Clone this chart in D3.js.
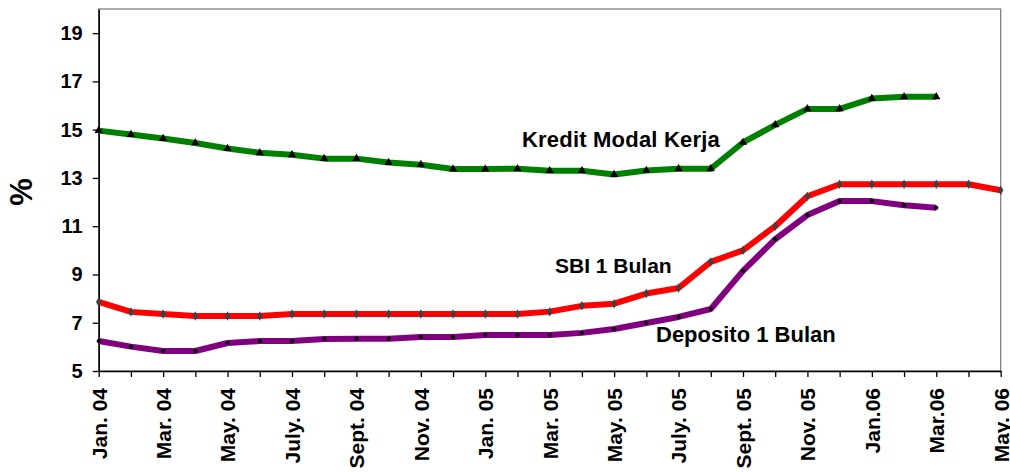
<!DOCTYPE html>
<html>
<head>
<meta charset="utf-8">
<script src="https://cdn.jsdelivr.net/npm/d3@7"></script>
<style>
  body { margin: 0; background: #fff; }
  svg { font-family: Arial, "Liberation Sans", sans-serif; font-weight: bold; }
</style>
</head>
<body>
<svg id="chart" width="1010" height="472"></svg>
<script>
// months Jan 04 .. May 06, label on every second month
const months = ['Jan. 04', 'Feb. 04', 'Mar. 04', 'Apr. 04', 'May. 04', 'Jun. 04', 'July. 04', 'Aug. 04',
  'Sept. 04', 'Oct. 04', 'Nov. 04', 'Dec. 04', 'Jan. 05', 'Feb. 05', 'Mar. 05', 'Apr. 05', 'May. 05',
  'Jun. 05', 'July. 05', 'Aug. 05', 'Sept. 05', 'Oct. 05', 'Nov. 05', 'Dec. 05', 'Jan.06', 'Feb.06',
  'Mar.06', 'Apr.06', 'May. 06'];

const kreditModalKerja = [14.96, 14.80, 14.63, 14.45, 14.22, 14.04, 13.96, 13.80, 13.80, 13.64, 13.55,
  13.37, 13.37, 13.38, 13.30, 13.30, 13.14, 13.31, 13.38, 13.38, 14.47, 15.20, 15.86, 15.86, 16.29,
  16.36, 16.36];

const sbi1Bulan = [7.86, 7.45, 7.36, 7.28, 7.28, 7.28, 7.36, 7.36, 7.36, 7.36, 7.36, 7.36, 7.36, 7.36,
  7.46, 7.70, 7.79, 8.21, 8.44, 9.52, 10.00, 11.00, 12.24, 12.74, 12.74, 12.74, 12.74, 12.74, 12.49];

const deposito1Bulan = [6.24, 6.01, 5.83, 5.83, 6.16, 6.24, 6.24, 6.33, 6.34, 6.34, 6.41, 6.41, 6.49,
  6.49, 6.49, 6.58, 6.74, 6.99, 7.24, 7.57, 9.15, 10.46, 11.46, 12.04, 12.04, 11.87, 11.76];

const yTicks = [5, 7, 9, 11, 13, 15, 17, 19];

const svg = d3.select('#chart');

const x = d3.scaleLinear().domain([0, months.length - 1]).range([98.7, 1000.7]);
const y = d3.scaleLinear().domain([5, 20]).range([371, 9]);

// plot frame (top/right grey)
svg.append('rect')
  .attr('x', x(0)).attr('y', y(20))
  .attr('width', x(months.length - 1) - x(0)).attr('height', y(5) - y(20))
  .attr('fill', 'none').attr('stroke', '#808080').attr('stroke-width', 1.3);

// y axis
const yAxis = svg.append('g')
  .attr('transform', `translate(${x(0)},0)`)
  .call(d3.axisLeft(y).tickValues(yTicks).tickSize(6).tickPadding(10).tickSizeOuter(0));
yAxis.select('.domain').attr('stroke', '#000').attr('stroke-width', 1.5);
yAxis.selectAll('.tick line').attr('stroke', '#000').attr('stroke-width', 1.3);
yAxis.selectAll('text').attr('font-size', '20px').attr('font-weight', 'bold').attr('fill', '#000')
  .attr('font-family', 'Arial, "Liberation Sans", sans-serif');

// x axis
const xAxis = svg.append('g')
  .attr('transform', `translate(0,${y(5)})`)
  .call(d3.axisBottom(x).tickValues(d3.range(months.length)).tickSize(6).tickSizeOuter(0)
    .tickFormat(i => i % 2 === 0 ? months[i] : ''));
xAxis.select('.domain').attr('stroke', '#000').attr('stroke-width', 1.5);
xAxis.selectAll('.tick line').attr('stroke', '#000').attr('stroke-width', 1.3);
xAxis.selectAll('text')
  .attr('font-size', '21px').attr('font-weight', 'bold').attr('fill', '#000')
  .attr('font-family', 'Arial, "Liberation Sans", sans-serif')
  .attr('text-anchor', 'end')
  .attr('transform', 'rotate(-90)')
  .attr('x', -17).attr('y', 0).attr('dy', '0.35em');

// y title
svg.append('text')
  .attr('transform', `translate(32,${(y(5) + y(20)) / 2 + 2}) rotate(-90)`)
  .attr('text-anchor', 'middle')
  .attr('font-size', '31px')
  .text('%');

const line = d3.line().x((d, i) => x(i)).y(d => y(d));

const drawSeries = (data, color, marker) => {
  svg.append('path')
    .datum(data)
    .attr('d', line)
    .attr('fill', 'none')
    .attr('stroke', color)
    .attr('stroke-width', 6)
    .attr('stroke-linejoin', 'round');
  const pts = svg.append('g').selectAll('path')
    .data(data).enter().append('path')
    .attr('transform', (d, i) => `translate(${x(i)},${y(d)})`);
  if (marker === 'triangle') {
    pts.attr('d', d3.symbol(d3.symbolTriangle, 30)).attr('fill', '#000');
  } else if (marker === 'diamond') {
    pts.attr('d', d3.symbol(d3.symbolDiamond, 26)).attr('fill', '#404040');
  } else {
    pts.attr('d', d3.symbol(d3.symbolCircle, 14)).attr('fill', '#000');
  }
};

drawSeries(kreditModalKerja, '#008000', 'triangle');
drawSeries(sbi1Bulan, '#ff0000', 'diamond');
drawSeries(deposito1Bulan, '#800080', 'circle');

// series labels
svg.append('text').attr('x', 522).attr('y', 146.5).attr('font-size', '22px').attr('letter-spacing', '0.2px')
  .text('Kredit Modal Kerja');
svg.append('text').attr('x', 555).attr('y', 272.5).attr('font-size', '21px').text('SBI 1 Bulan');
svg.append('text').attr('x', 656).attr('y', 341.5).attr('font-size', '22px').text('Deposito 1 Bulan');
</script>
</body>
</html>
